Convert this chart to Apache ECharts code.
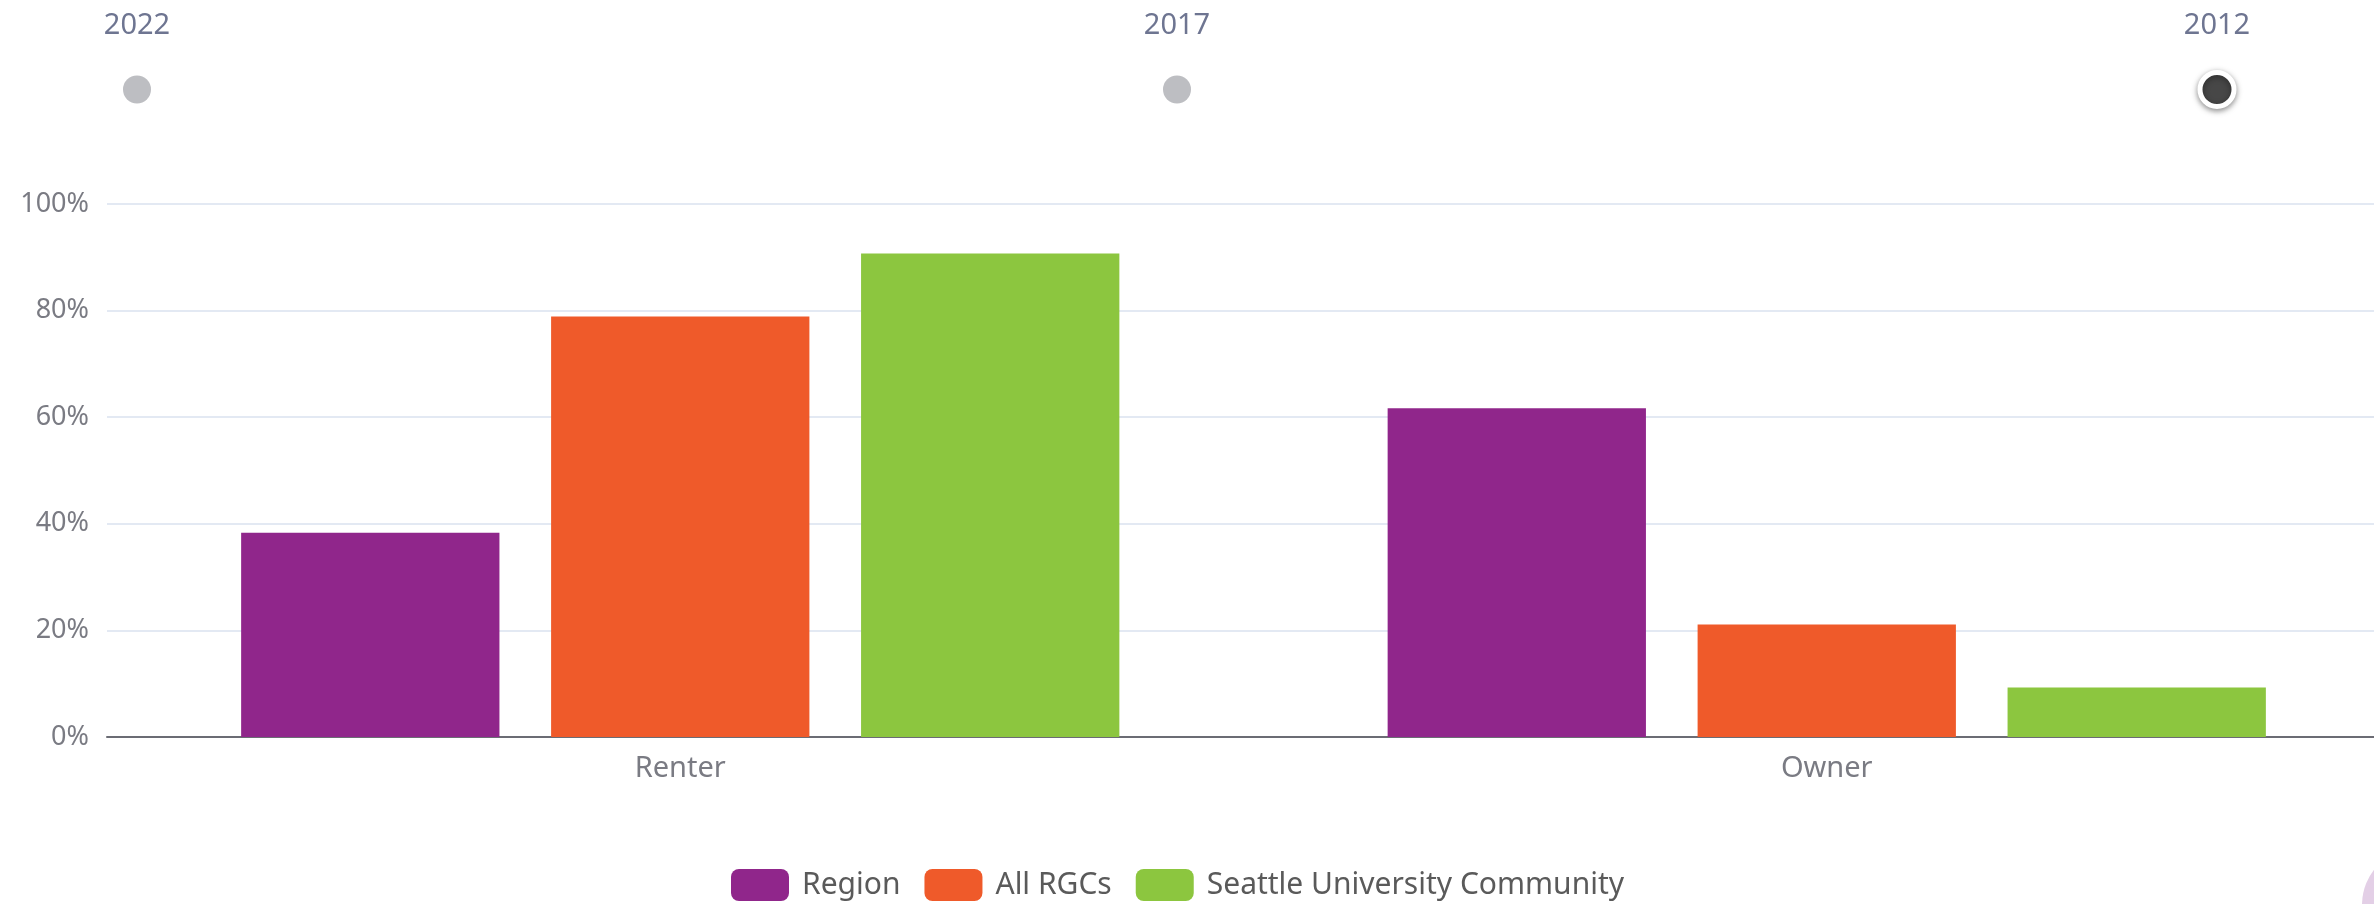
<!DOCTYPE html>
<html>
<head>
<meta charset="utf-8" />
<title>Renter / Owner</title>
<script src="https://cdn.jsdelivr.net/npm/echarts@6/dist/echarts.min.js"></script>
<style>
  html, body { margin: 0; padding: 0; background: #fff; overflow: hidden; }
  #bar-chart { width: 2374px; height: 904px; }
</style>
</head>
<body>
<div id="bar-chart"></div>
<script>
const years = ["2022", "2017", "2012"];
const categories = ["Renter", "Owner"];
const seriesNames = ["Region", "All RGCs", "Seattle University Community"];
const regionValues = [38.3, 61.7];
const allRgcValues = [78.9, 21.1];
const seattleUValues = [90.7, 9.3];
const colors = ["#90268b", "#ef5a2a", "#8cc63f"];

const fontFamily = "Noto Sans";
const barChart = echarts.init(document.getElementById("bar-chart"));

const seriesData = [regionValues, allRgcValues, seattleUValues];

// timeline labels share one style for normal / hover / passed states
const yearLabel = {
  color: "#6e7591",
  fontSize: 29,
  fontFamily: fontFamily,
};

const option = {
  baseOption: {
    color: colors,
    timeline: {
      axisType: "category",
      data: years,
      currentIndex: 2,
      autoPlay: false,
      left: 122,
      right: 142,
      top: 54,
      height: 40,
      symbol: "circle",
      symbolSize: 28,
      lineStyle: { show: false },
      itemStyle: { color: "#bdbec2" },
      checkpointStyle: {
        symbol: "circle",
        symbolSize: 34,
        color: "#474747",
        borderColor: "#fff",
        borderWidth: 5,
        shadowBlur: 6,
        shadowColor: "rgba(0,0,0,0.4)",
        shadowOffsetY: 2,
        animation: false,
      },
      controlStyle: { show: false },
      label: Object.assign({ position: -49 }, yearLabel),
      emphasis: {
        label: yearLabel,
        itemStyle: { color: "#bdbec2" },
      },
      progress: {
        lineStyle: { show: false },
        itemStyle: { color: "#bdbec2" },
        label: yearLabel,
      },
    },
    legend: {
      data: seriesNames,
      left: 731,
      top: 869,
      padding: 0,
      itemWidth: 58,
      itemHeight: 32,
      itemGap: 24,
      icon: "roundRect",
      textStyle: {
        color: "#5a5a5a",
        fontSize: 30,
        fontFamily: fontFamily,
        padding: [0, 0, 0, 8],
      },
    },
    grid: {
      left: 107,
      right: -26,
      top: 204,
      bottom: 167,
      outerBoundsMode: "none",
    },
    xAxis: {
      type: "category",
      data: categories,
      axisTick: { show: false },
      axisLine: { lineStyle: { color: "#6b6c74", width: 2 } },
      axisLabel: {
        margin: 17,
        color: "#7a7b83",
        fontSize: 29,
        fontFamily: fontFamily,
      },
    },
    yAxis: {
      type: "value",
      min: 0,
      max: 100,
      interval: 20,
      axisLabel: {
        formatter: "{value}%",
        margin: 18,
        color: "#7a7b83",
        fontSize: 27,
        fontFamily: fontFamily,
      },
      splitLine: { lineStyle: { color: "#e3e9f3", width: 2 } },
    },
    series: seriesNames.map((name, i) => ({
      name: name,
      type: "bar",
      data: seriesData[i],
      barGap: "20%",
      barCategoryGap: "23.4%",
    })),
    graphic: [
      {
        type: "circle",
        shape: { cx: 2420, cy: 905, r: 58 },
        style: { fill: "#e3cfe6" },
        silent: true,
      },
    ],
  },
  options: years.map(() => ({})),
};

barChart.setOption(option);
</script>
</body>
</html>
